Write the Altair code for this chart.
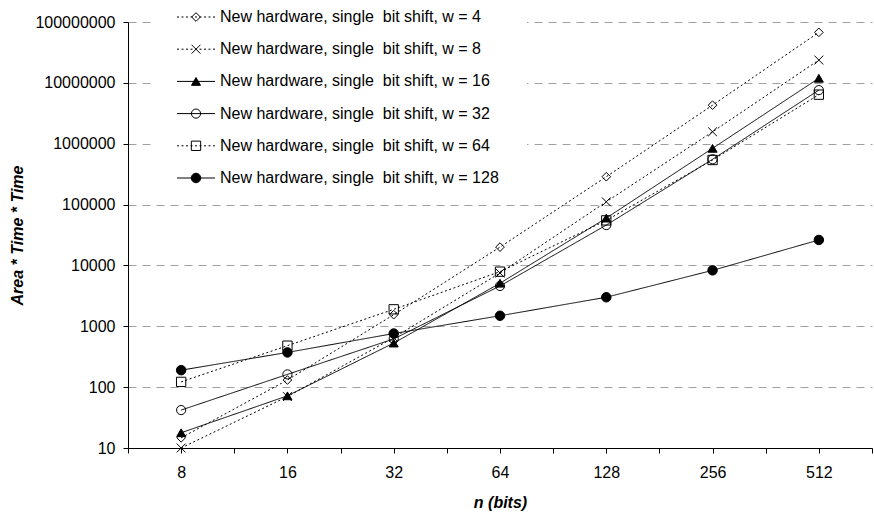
import math
import altair as alt
import pandas as pd

# ---- data ----
n_bits = [8, 16, 32, 64, 128, 256, 512]
series_labels = [
    "New hardware, single\u00a0 bit shift, w = 4",
    "New hardware, single\u00a0 bit shift, w = 8",
    "New hardware, single\u00a0 bit shift, w = 16",
    "New hardware, single\u00a0 bit shift, w = 32",
    "New hardware, single\u00a0 bit shift, w = 64",
    "New hardware, single\u00a0 bit shift, w = 128",
]
w4 = [14.7, 131, 1550, 20000, 287000, 4300000, 67600000]
w8 = [10, 70, 650, 7500, 111000, 1570000, 23700000]
w16 = [17.8, 72, 530, 5100, 60000, 840000, 11900000]
w32 = [42, 162, 620, 4600, 46000, 555000, 7600000]
w64 = [122, 480, 1900, 7900, 55000, 540000, 6400000]
w128 = [190, 372, 760, 1490, 3000, 8300, 26200]
y_ticks = [10, 100, 1000, 10000, 100000, 1000000, 10000000, 100000000]

all_series = [w4, w8, w16, w32, w64, w128]
rows = []
for lab, vals in zip(series_labels, all_series):
    for n, v in zip(n_bits, vals):
        rows.append({"series": lab, "n": n, "value": v})
df = pd.DataFrame(rows)
legend_df = pd.DataFrame({"series": series_labels})
box_df = pd.DataFrame({"k": [0]})

# x ticks at every category and halfway between categories (log2 axis)
edges = [n_bits[0] / math.sqrt(2)] + [math.sqrt(a * b) for a, b in zip(n_bits[:-1], n_bits[1:])] + [n_bits[-1] * math.sqrt(2)]
x_ticks = sorted(n_bits + edges)

FONT = "Liberation Sans"
dash_range = [[2, 2.5], [2, 2.5], [1, 0], [1, 0], [2, 2.5], [1, 0]]
shape_range = ["diamond", "M-1,-1L1,1M-1,1L1,-1", "triangle-up", "circle", "square", "circle"]
fill_range = ["transparent", "transparent", "black", "transparent", "transparent", "black"]
size_range = [75, 90, 90, 85, 80, 100]

dash_enc = alt.StrokeDash("series:N", scale=alt.Scale(domain=series_labels, range=dash_range), legend=None)
shape_enc = alt.Shape("series:N", scale=alt.Scale(domain=series_labels, range=shape_range), legend=None)
fill_enc = alt.Fill("series:N", scale=alt.Scale(domain=series_labels, range=fill_range), legend=None)
size_enc = alt.Size("series:N", scale=alt.Scale(domain=series_labels, range=size_range), legend=None)

x_enc = alt.X(
    "n:Q",
    scale=alt.Scale(type="log", base=2, domain=[edges[0], edges[-1]], nice=False),
    axis=alt.Axis(
        values=x_ticks,
        labelExpr="indexof(%s, datum.value) >= 0 ? format(datum.value, 'd') : ''" % str(n_bits),
        title="n (bits)",
        grid=False,
        tickSize=5,
        labelPadding=11,
        labelFlush=False,
        labelOverlap=False,
        titleX=372,
        titleY=54,
        titleBaseline="middle",
    ),
)
y_enc = alt.Y(
    "value:Q",
    scale=alt.Scale(type="log", domain=[10, 100000000], nice=False),
    axis=alt.Axis(
        values=y_ticks,
        format="d",
        grid=True,
        gridDash=[8, 6],
        gridColor="#a0a0a0",
        gridWidth=1,
        tickSize=5,
        labelPadding=8,
        title="Area * Time * Time",
        titleAngle=-90,
        titleX=-111,
        titleY=213,
        titleBaseline="middle",
        titleAlign="center",
    ),
)

lines = alt.Chart(df).mark_line(color="black", strokeWidth=1).encode(
    x=x_enc, y=y_enc, strokeDash=dash_enc, detail="series:N", order="n:Q"
)
points = alt.Chart(df).mark_point(stroke="black", strokeWidth=1, opacity=1).encode(
    x=x_enc, y=y_enc, shape=shape_enc, fill=fill_enc, size=size_enc
)
data_layer = alt.layer(lines, points)

# legend positions are in plot coordinates (plot area starts at x=128, y=22)
legend_y = alt.Y("series:N", scale=alt.Scale(type="point", domain=series_labels, range=[-5, 156], padding=0), axis=None)

box = alt.Chart(box_df).mark_rect(fill="white").encode(
    x=alt.value(25), x2=alt.value(399), y=alt.value(-22), y2=alt.value(174)
)
leg_lines = alt.Chart(legend_df).mark_rule(color="black", strokeWidth=1).encode(
    x=alt.value(49), x2=alt.value(87), y=legend_y, strokeDash=dash_enc
)
leg_points = alt.Chart(legend_df).mark_point(stroke="black", strokeWidth=1, opacity=1).encode(
    x=alt.value(68), y=legend_y, shape=shape_enc, fill=fill_enc, size=size_enc
)
leg_text = alt.Chart(legend_df).mark_text(
    align="left", baseline="middle", font=FONT, fontSize=16, color="black"
).encode(x=alt.value(92), y=legend_y, text="series:N")

chart = (
    alt.layer(data_layer, box, leg_lines, leg_points, leg_text)
    .resolve_scale(y="independent")
    .properties(
        width=744,
        height=426,
        padding={"left": 128, "top": 22, "right": 2, "bottom": 70},
        autosize=alt.AutoSizeParams(type="none"),
        background="white",
    )
    .configure_view(stroke=None)
    .configure_axis(
        labelFont=FONT,
        titleFont=FONT,
        labelFontSize=16,
        titleFontSize=16,
        titleFontStyle="italic",
        titleFontWeight="bold",
        labelColor="black",
        titleColor="black",
        domainColor="black",
        tickColor="black",
        domainWidth=1,
        tickWidth=1,
    )
)

chart.save("out.html", embed_options={"renderer": "svg", "actions": False})
